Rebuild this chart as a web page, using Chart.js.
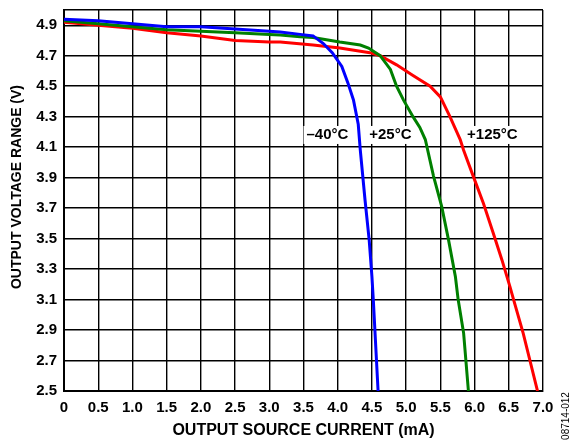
<!DOCTYPE html>
<html>
<head>
<meta charset="utf-8">
<script src="https://cdn.jsdelivr.net/npm/chart.js@4/dist/chart.umd.min.js"></script>
<style>
  body { margin: 0; background: #fff; }
  #wrap { width: 570px; height: 443px; }
</style>
</head>
<body>
<div id="wrap"><canvas id="mainChart"></canvas></div>
<script>
// ---------------- Data ----------------
const curM40 = [0, 0.5, 1.0, 1.5, 2.0, 2.5, 3.0, 3.16, 3.45, 3.64, 3.79, 3.92, 4.06, 4.15, 4.23, 4.30, 4.33, 4.40, 4.46, 4.50, 4.52, 4.59];
const voltM40 = [4.94, 4.93, 4.91, 4.89, 4.89, 4.875, 4.86, 4.855, 4.84, 4.83, 4.78, 4.72, 4.63, 4.52, 4.41, 4.25, 4.08, 3.75, 3.49, 3.25, 3.10, 2.5];

const cur25 = [0, 0.5, 1.0, 1.5, 2.0, 2.5, 3.0, 3.16, 3.45, 3.64, 4.03, 4.33, 4.45, 4.62, 4.77, 4.86, 4.96, 5.10, 5.20, 5.28, 5.40, 5.52, 5.62, 5.72, 5.76, 5.84, 5.91];
const volt25 = [4.93, 4.91, 4.89, 4.87, 4.86, 4.85, 4.84, 4.836, 4.825, 4.82, 4.79, 4.77, 4.75, 4.70, 4.61, 4.50, 4.41, 4.30, 4.23, 4.15, 3.91, 3.71, 3.49, 3.25, 3.10, 2.88, 2.5];

const cur125 = [0, 0.5, 1.0, 1.5, 2.0, 2.5, 3.0, 3.16, 3.64, 4.03, 4.47, 4.62, 4.86, 5.10, 5.35, 5.50, 5.64, 5.79, 5.84, 5.98, 6.13, 6.27, 6.40, 6.52, 6.57, 6.71, 6.92];
const volt125 = [4.92, 4.90, 4.88, 4.85, 4.83, 4.80, 4.79, 4.79, 4.77, 4.75, 4.72, 4.70, 4.64, 4.57, 4.50, 4.43, 4.30, 4.15, 4.08, 3.91, 3.73, 3.54, 3.36, 3.18, 3.10, 2.88, 2.5];

const yTicks = [2.5, 2.7, 2.9, 3.1, 3.3, 3.5, 3.7, 3.9, 4.1, 4.3, 4.5, 4.7, 4.9, 5.0];
const xTicks = [0, 0.5, 1.0, 1.5, 2.0, 2.5, 3.0, 3.5, 4.0, 4.5, 5.0, 5.5, 6.0, 6.5, 7.0];

const curveLabels = [
    { text: '\u201340\u00B0C', x: 3.85, y: 4.18 },
    { text: '+25\u00B0C', x: 4.77, y: 4.18 },
    { text: '+125\u00B0C', x: 6.26, y: 4.18 }
];

function pts(xs, ys) {
    return xs.map((x, i) => ({ x: x, y: ys[i] }));
}

const FONT = "'Liberation Sans', Arial, sans-serif";

// ---------------- Curve labels, y title, figure id ----------------
const labelPlugin = {
    id: 'labelPlugin',
    afterDatasetsDraw(chart) {
        const ctx = chart.ctx;
        const xs = chart.scales.x, ys = chart.scales.y;
        ctx.save();
        ctx.font = 'bold 15px ' + FONT;
        ctx.textAlign = 'center';
        ctx.textBaseline = 'middle';
        curveLabels.forEach(l => {
            const px = xs.getPixelForValue(l.x);
            const py = ys.getPixelForValue(l.y);
            const w = ctx.measureText(l.text).width;
            ctx.fillStyle = '#fff';
            ctx.fillRect(px - w / 2 - 3, py - 9, w + 6, 18);
            ctx.fillStyle = '#000';
            ctx.fillText(l.text, px, py);
        });
        ctx.restore();
    },
    afterDraw(chart) {
        const ctx = chart.ctx;
        ctx.save();
        ctx.fillStyle = '#000';
        ctx.textAlign = 'center';
        ctx.textBaseline = 'middle';

        ctx.save();
        ctx.translate(17, 187);
        ctx.rotate(-Math.PI / 2);
        ctx.font = 'bold 14px ' + FONT;
        ctx.fillText('OUTPUT VOLTAGE RANGE (V)', 0, 0);
        ctx.restore();

        ctx.translate(566, 416);
        ctx.rotate(-Math.PI / 2);
        ctx.font = '10px ' + FONT;
        ctx.fillText('08714-012', 0, 0);
        ctx.restore();
    }
};

// ---------------- Chart Init ----------------
const ctx = document.getElementById('mainChart').getContext('2d');

new Chart(ctx, {
    type: 'scatter',
    data: {
        datasets: [
            { data: pts(curM40, voltM40), borderColor: '#0000ff' },
            { data: pts(cur25, volt25), borderColor: '#008000' },
            { data: pts(cur125, volt125), borderColor: '#ff0000' }
        ].map(d => Object.assign(d, {
            showLine: true, borderWidth: 3, pointRadius: 0, tension: 0, fill: false
        }))
    },
    options: {
        responsive: true,
        maintainAspectRatio: false,
        animation: false,
        layout: { padding: { left: 0, right: 27, top: 10, bottom: 0 } },
        plugins: { legend: { display: false }, tooltip: { enabled: false } },
        scales: {
            x: {
                type: 'linear', min: 0, max: 7,
                afterBuildTicks: s => { s.ticks = xTicks.map(v => ({ value: v })); },
                afterFit: s => { s.height = 52; s.paddingLeft = 0; s.paddingRight = 0; },
                grid: { color: '#000', lineWidth: 1.4, drawTicks: false },
                border: { color: '#000', width: 2 },
                ticks: {
                    color: '#000', padding: 8, maxRotation: 0, autoSkip: false,
                    font: { family: FONT, size: 15, weight: 'bold' },
                    callback: v => v === 0 ? '0' : v.toFixed(1)
                },
                title: {
                    display: true, text: 'OUTPUT SOURCE CURRENT (mA)', color: '#000',
                    font: { family: FONT, size: 16, weight: 'bold' },
                    padding: { top: 2, bottom: 3 }
                }
            },
            y: {
                type: 'linear', min: 2.5, max: 5.0,
                afterBuildTicks: s => { s.ticks = yTicks.map(v => ({ value: v })); },
                afterFit: s => { s.width = 64; s.paddingTop = 0; s.paddingBottom = 0; },
                grid: { color: '#000', lineWidth: 1.4, drawTicks: false },
                border: { color: '#000', width: 2 },
                ticks: {
                    color: '#000', padding: 7, autoSkip: false,
                    font: { family: FONT, size: 15, weight: 'bold' },
                    callback: v => v >= 4.95 ? '' : v.toFixed(1)
                },
                title: { display: false }
            }
        }
    },
    plugins: [labelPlugin]
});
</script>
</body>
</html>
